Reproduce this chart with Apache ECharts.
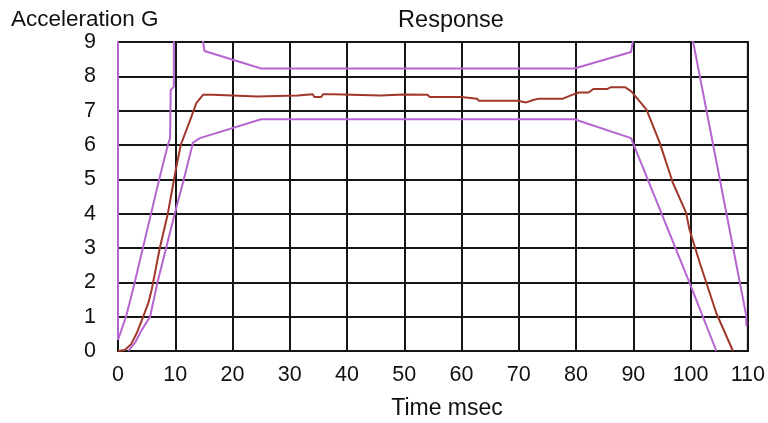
<!DOCTYPE html>
<html>
<head>
<meta charset="utf-8">
<title>Response</title>
<script src="https://cdn.jsdelivr.net/npm/echarts@6/dist/echarts.min.js"></script>
<style>
    html, body { margin: 0; padding: 0; background: #fff; }
    #chart { width: 768px; height: 423px; }
</style>
</head>
<body>
<div id="chart"></div>
<script>
// time (msec), acceleration (G)
const upperLeft = [[0, 9.3], [0, 0.32], [1.4, 1.0], [2.7, 1.85], [4.2, 2.9], [5.7, 3.95],
    [7.2, 5.0], [8.7, 6.0], [9.1, 6.2], [9.2, 7.6], [9.75, 7.7], [9.75, 9.3]];
const upperTop = [[14.6, 9.3], [15.1, 8.74], [25, 8.23], [79.7, 8.23], [89.6, 8.71], [90.2, 9.3]];
const upperRight = [[100.1, 9.3], [109.7, 1.05], [109.75, 0.72]];
const lowerCorridor = [[1.8, 0], [3.0, 0.25], [4.1, 0.6], [5.6, 1.0], [6.9, 2.0], [8.4, 3.0],
    [9.9, 4.0], [11.5, 5.0], [13.1, 6.07], [14.3, 6.2], [25, 6.75], [79.7, 6.75],
    [89.6, 6.2], [99.8, 1.99], [104.5, 0]];
const response = [[0, 0], [1.2, 0.03], [2.3, 0.2], [3.3, 0.53], [4.4, 1.0], [5.3, 1.4],
    [5.9, 1.8], [7.3, 3.0], [8.7, 4.0], [10, 5.2], [10.95, 6.0], [12.5, 6.68], [13.7, 7.23],
    [14.85, 7.46], [16.6, 7.46], [16.8, 7.41], [24.4, 7.41], [24.7, 7.44], [31.4, 7.44],
    [31.7, 7.48], [34, 7.48], [34.3, 7.40], [35.5, 7.40], [35.8, 7.48], [37.5, 7.48],
    [37.8, 7.44], [45.8, 7.44], [46.1, 7.48], [50, 7.47], [54.1, 7.46], [54.4, 7.40],
    [60, 7.40], [60.3, 7.35], [62.7, 7.35], [63, 7.29], [69.8, 7.29], [70.1, 7.24],
    [71.3, 7.24], [72.5, 7.31], [73.5, 7.35], [77.7, 7.35], [79.3, 7.46], [80.5, 7.53],
    [82.2, 7.53], [83, 7.63], [85.4, 7.63], [86, 7.68], [88.6, 7.68], [89.6, 7.57],
    [92.3, 7.03], [94.6, 6.07], [96.9, 4.9], [99.2, 4.03], [99.8, 3.54], [101.6, 2.57],
    [104.5, 1.1], [107.4, 0]];

const FONT = 'Liberation Sans, Arial, sans-serif';
const PURPLE = '#b665d0';
const BROWN = '#a0372b';
const GRID = '#151515';

const myChart = echarts.init(document.getElementById('chart'));

function corridor(data) {
    return {
        type: 'line',
        data: data,
        showSymbol: false,
        lineStyle: { color: PURPLE, width: 2 },
        itemStyle: { color: PURPLE },
        z: 3
    };
}

const option = {
    animation: false,
    backgroundColor: '#fff',
    grid: {
        left: 118,
        right: 20,
        top: 42,
        bottom: 72,
        show: true,
        borderColor: GRID,
        borderWidth: 2
    },
    graphic: [
        {
            type: 'text', x: 11, y: 20,
            style: { text: 'Acceleration G', fontSize: 22.5, fontFamily: FONT, fill: '#111',
                textAlign: 'left', textVerticalAlign: 'middle' }
        },
        {
            type: 'text', x: 451, y: 21,
            style: { text: 'Response', fontSize: 23.5, fontFamily: FONT, fill: '#111',
                textAlign: 'center', textVerticalAlign: 'middle' }
        },
        {
            type: 'text', x: 447, y: 409,
            style: { text: 'Time msec', fontSize: 23, fontFamily: FONT, fill: '#111',
                textAlign: 'center', textVerticalAlign: 'middle' }
        }
    ],
    xAxis: {
        type: 'value',
        min: 0,
        max: 110,
        interval: 10,
        axisLine: { show: true, lineStyle: { color: GRID, width: 2 } },
        axisTick: { show: false },
        axisLabel: { fontSize: 21.5, fontFamily: FONT, color: '#111', margin: 13 },
        splitLine: { show: true, lineStyle: { color: GRID, width: 2 } }
    },
    yAxis: {
        type: 'value',
        min: 0,
        max: 9,
        interval: 1,
        axisLine: { show: true, lineStyle: { color: GRID, width: 2 } },
        axisTick: { show: false },
        axisLabel: { fontSize: 21.5, fontFamily: FONT, color: '#111', margin: 22 },
        splitLine: { show: true, lineStyle: { color: GRID, width: 2 } }
    },
    series: [
        corridor(upperLeft),
        corridor(upperTop),
        corridor(upperRight),
        corridor(lowerCorridor),
        {
            type: 'line',
            data: response,
            showSymbol: false,
            lineStyle: { color: BROWN, width: 2 },
            itemStyle: { color: BROWN },
            z: 4
        }
    ]
};

myChart.setOption(option);
</script>
</body>
</html>
